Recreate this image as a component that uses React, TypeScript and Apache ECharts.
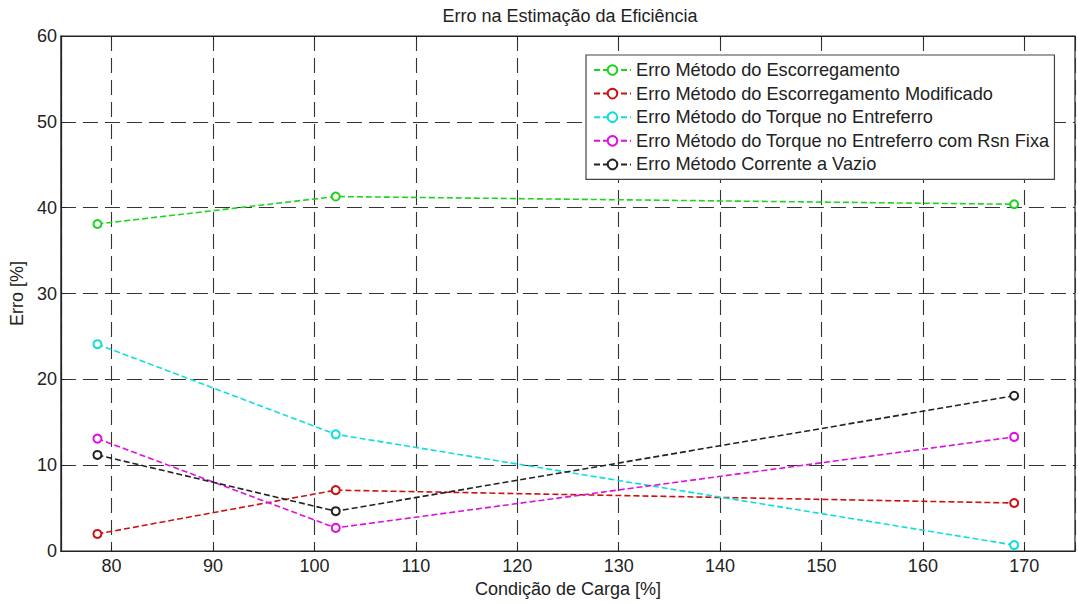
import React, { useEffect, useRef } from "react";
import * as echarts from "echarts";

const loadPct = [78.6, 102.1, 169.0];
const errSlip = [38.1, 41.3, 40.4];
const errSlipMod = [2.0, 7.1, 5.6];
const errTorque = [24.1, 13.6, 0.7];
const errTorqueRsn = [13.1, 2.7, 13.3];
const errNoLoad = [11.2, 4.65, 18.1];

const seriesNames = [
  "Erro Método do Escorregamento",
  "Erro Método do Escorregamento Modificado",
  "Erro Método do Torque no Entreferro",
  "Erro Método do Torque no Entreferro com Rsn Fixa",
  "Erro Método Corrente a Vazio",
];
const seriesValues = [errSlip, errSlipMod, errTorque, errTorqueRsn, errNoLoad];
const seriesColors = ["#1fd41f", "#cc1111", "#11dddd", "#dd11dd", "#222222"];

const FONT = "'Liberation Sans', Arial, Helvetica, sans-serif";

export default function App() {
  const ref = useRef<HTMLDivElement>(null);
  useEffect(() => {
    if (!ref.current) return;
    const chart = echarts.init(ref.current, undefined, { renderer: "svg", width: 1078, height: 603 });
    const gridDash = { color: "#333", width: 1.1, type: [15, 7] as any };
    chart.setOption({
      animation: false,
      backgroundColor: "#fff",
      textStyle: { fontFamily: FONT, color: "#222" },
      title: {
        text: "Erro na Estimação da Eficiência",
        left: 570,
        textAlign: "center",
        top: 7,
        padding: 0,
        textStyle: { fontFamily: FONT, fontSize: 18, fontWeight: "normal", color: "#222" },
      },
      legend: {
        orient: "vertical",
        left: 586,
        top: 55,
        padding: [6, 5, 6, 7],
        itemWidth: 37,
        itemHeight: 12,
        itemGap: 5.6,
        backgroundColor: "#fff",
        borderColor: "#444",
        borderWidth: 1.2,
        borderRadius: 0,
        textStyle: { fontFamily: FONT, fontSize: 18.2, color: "#222", lineHeight: 18 },
        data: seriesNames,
      },
      grid: {
        left: 60,
        top: 36,
        width: 1020,
        height: 521,
        show: true,
        borderColor: "#222",
        borderWidth: 1.2,
      },
      xAxis: [
        {
          type: "value",
          min: 75,
          max: 175,
          splitNumber: 10,
          name: "Condição de Carga [%]",
          nameLocation: "middle",
          nameGap: 26,
          nameTextStyle: { fontFamily: FONT, fontSize: 18, color: "#222" },
          axisLine: { show: true, lineStyle: { color: "#222", width: 1.2 } },
          axisTick: { show: true, inside: true, length: 5, lineStyle: { color: "#222" } },
          axisLabel: {
            fontFamily: FONT,
            fontSize: 18,
            color: "#222",
            margin: 6,
            formatter: (v: number) => (v % 10 === 0 ? String(v) : ""),
          },
          splitLine: { show: true, lineStyle: gridDash },
        },
        {
          type: "value",
          position: "top",
          min: 75,
          max: 175,
          splitNumber: 10,
          axisLine: { show: true, lineStyle: { color: "#222", width: 1.2 } },
          axisTick: { show: true, inside: true, length: 5, lineStyle: { color: "#222" } },
          axisLabel: { show: false },
          splitLine: { show: false },
        },
      ],
      yAxis: {
        type: "value",
        min: 0,
        max: 60,
        interval: 10,
        name: "Erro [%]",
        nameLocation: "middle",
        nameGap: 34,
        nameTextStyle: { fontFamily: FONT, fontSize: 18, color: "#222" },
        axisLine: { show: true, lineStyle: { color: "#222", width: 1.2 } },
        axisTick: { show: true, inside: true, length: 5, lineStyle: { color: "#222" } },
        axisLabel: { fontFamily: FONT, fontSize: 18, color: "#222", margin: 4 },
        splitLine: { show: true, lineStyle: gridDash },
      },
      series: seriesNames.map((name, i) => ({
        name,
        type: "line",
        xAxisIndex: 0,
        data: loadPct.map((x, j) => [x, seriesValues[i][j]]),
        symbol: "emptyCircle",
        symbolSize: 8,
        color: seriesColors[i],
        lineStyle: { color: seriesColors[i], width: 1.6, type: [6, 3] },
        itemStyle: { color: seriesColors[i], borderColor: seriesColors[i], borderWidth: 1.5 },
        z: 3,
      })),
    });
    return () => chart.dispose();
  }, []);
  return (
    <div
      ref={ref}
      style={{ position: "fixed", left: 0, top: 0, width: 1078, height: 603 }}
    />
  );
}
